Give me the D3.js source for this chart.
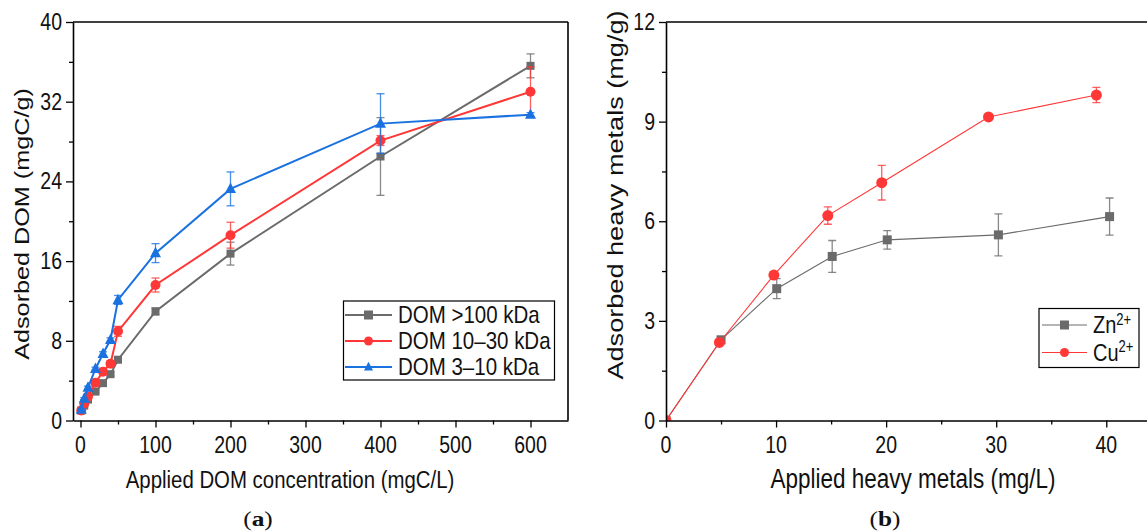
<!DOCTYPE html>
<html>
<head>
<meta charset="utf-8">
<script src="https://cdn.jsdelivr.net/npm/d3@7"></script>
<style>
  body { margin: 0; background: #fff; }
  text { font-family: "Liberation Sans", Arial, sans-serif; fill: #111; }
</style>
</head>
<body>
<svg id="chart" width="1147" height="532"></svg>
<script>
// ---- panel (a) data ----
var domConc   = [1, 5, 10, 20, 30, 40, 50, 100, 200, 400, 600];
var domHigh   = [1.0, 1.5, 2.1, 2.9, 3.75, 4.65, 6.1, 10.95, 16.75, 26.5, 35.6];
var domHighE  = [0.1, 0.1, 0.1, 0.15, 0.2, 0.2, 0.25, 0.35, 1.15, 3.9, 1.2];
var domMid    = [1.0, 1.7, 2.4, 3.8, 4.9, 5.7, 8.95, 13.6, 18.6, 28.1, 33.0];
var domMidE   = [0.3, 0.3, 0.3, 0.3, 0.3, 0.3, 0.5, 0.7, 1.3, 0.5, 2.5];
var domLow    = [1.1, 2.2, 3.3, 5.2, 6.7, 8.1, 12.1, 16.8, 23.25, 29.8, 30.7];
var domLowE   = [0.1, 0.1, 0.15, 0.15, 0.2, 0.2, 0.45, 0.95, 1.7, 3.0, 0.2];
var legendA   = ["DOM >100 kDa", "DOM 10\u201330 kDa", "DOM 3\u201310 kDa"];
var yTicksA   = [0, 8, 16, 24, 32, 40];
var xTicksA   = [0, 100, 200, 300, 400, 500, 600];

// ---- panel (b) data ----
var znX  = [0, 5.0, 10.06, 15.1, 20.1, 30.2, 40.3];
var znY  = [0, 2.43, 3.97, 4.94, 5.44, 5.59, 6.14];
var znE  = [0, 0.05, 0.3, 0.48, 0.28, 0.63, 0.56];
var cuX  = [0, 4.85, 9.8, 14.7, 19.6, 29.3, 39.1];
var cuY  = [0, 2.35, 4.38, 6.17, 7.16, 9.14, 9.8];
var cuE  = [0, 0.05, 0.1, 0.26, 0.52, 0.08, 0.23];
var yTicksB = [0, 3, 6, 9, 12];
var xTicksB = [0, 10, 20, 30, 40];

var gray = "#6b6b6b", red = "#ff3737", blue = "#1a72e0";
var svg = d3.select("#chart");
var K = 1.2;   // the picture is stretched vertically, text too

// text that is taller than wide, like in the picture
function txt(x, y, s, size, anchor, rot) {
  return svg.append("text")
    .attr("transform", "translate(" + x + "," + y + ") scale(1," + K + ")" + (rot ? " rotate(" + rot + ")" : ""))
    .attr("text-anchor", anchor || "start")
    .style("font-size", size + "px")
    .text(s);
}

function drawAxes(x, y, xt, xminor, yt, yminor, box, tsize) {
  var g = svg.append("g");
  var x0 = x.range()[0], x1 = x.range()[1], y0 = y.range()[0], y1 = y.range()[1];
  g.append("g").attr("transform", "translate(0," + y0 + ")")
    .call(d3.axisBottom(x).tickValues(xminor).tickSize(4).tickFormat(""))
    .call(function(s) { s.select(".domain").remove(); });
  g.append("g").attr("transform", "translate(0," + y0 + ")")
    .call(d3.axisBottom(x).tickValues(xt).tickSize(7).tickFormat("").tickSizeOuter(0));
  g.append("g").attr("transform", "translate(" + x0 + ",0)")
    .call(d3.axisLeft(y).tickValues(yminor).tickSize(4).tickFormat(""))
    .call(function(s) { s.select(".domain").remove(); });
  g.append("g").attr("transform", "translate(" + x0 + ",0)")
    .call(d3.axisLeft(y).tickValues(yt).tickSize(7).tickFormat("").tickSizeOuter(0));
  g.selectAll(".domain").attr("stroke-width", 1.6);
  g.selectAll(".tick line").attr("stroke-width", 1.3);
  g.append("line").attr("x1", x0).attr("x2", x1).attr("y1", y1).attr("y2", y1)
    .attr("stroke", "#000").attr("stroke-width", 1.6);
  if (box) {
    g.append("line").attr("x1", x1).attr("x2", x1).attr("y1", y1).attr("y2", y0)
      .attr("stroke", "#000").attr("stroke-width", 1.6);
  }
  xt.forEach(function(v) { txt(x(v), 453, String(v), tsize, "middle"); });
  yt.forEach(function(v) { txt(x0 - 11, y(v) + 8, String(v), tsize, "end"); });
}

function marker(g, type, cx, cy, color, size) {
  if (type === "square") {
    g.append("rect").attr("x", cx - size / 2).attr("y", cy - size / 2)
      .attr("width", size).attr("height", size).attr("fill", color);
  } else if (type === "circle") {
    g.append("circle").attr("cx", cx).attr("cy", cy).attr("r", size / 2).attr("fill", color);
  } else {
    var h = size * 0.95;
    g.append("path").attr("d", "M" + cx + "," + (cy - h * 0.6) + "L" + (cx + size / 2) + "," + (cy + h * 0.4) +
      "L" + (cx - size / 2) + "," + (cy + h * 0.4) + "Z").attr("fill", color);
  }
}

function series(x, y, xs, ys, es, color, type, size, lw, clip) {
  var g = svg.append("g");
  if (clip) g.attr("clip-path", "url(#" + clip + ")");
  // error bars
  xs.forEach(function(v, i) {
    if (!es[i]) return;
    var cx = x(v), t = y(ys[i] + es[i]), b = y(ys[i] - es[i]);
    g.append("line").attr("x1", cx).attr("x2", cx).attr("y1", t).attr("y2", b)
      .attr("stroke", color).attr("stroke-opacity", 0.8).attr("stroke-width", 1.3);
    [t, b].forEach(function(yy) {
      g.append("line").attr("x1", cx - 4).attr("x2", cx + 4).attr("y1", yy).attr("y2", yy)
        .attr("stroke", color).attr("stroke-opacity", 0.8).attr("stroke-width", 1.3);
    });
  });
  var pts = xs.map(function(v, i) { return [x(v), y(ys[i])]; });
  g.append("path").attr("d", d3.line()(pts)).attr("fill", "none")
    .attr("stroke", color).attr("stroke-width", lw);
  pts.forEach(function(p) { marker(g, type, p[0], p[1], color, size); });
}

function legend(items, bx, by, bw, bh, rowY, lx0, lx1, tx, lw, size, fsz) {
  var g = svg.append("g");
  g.append("rect").attr("x", bx).attr("y", by).attr("width", bw).attr("height", bh)
    .attr("fill", "#fff").attr("stroke", "#000").attr("stroke-width", 1.2);
  items.forEach(function(it, i) {
    var yy = rowY[i];
    g.append("line").attr("x1", lx0).attr("x2", lx1).attr("y1", yy).attr("y2", yy)
      .attr("stroke", it.color).attr("stroke-width", lw);
    marker(g, it.type, (lx0 + lx1) / 2, yy, it.color, size);
    var t = txt(tx, yy + 8, it.label, fsz, "start");
    if (it.sup) t.append("tspan").attr("dy", -7).style("font-size", (fsz * 0.65) + "px").text(it.sup);
  });
}

// ---------- panel (a) ----------
var xa = d3.scaleLinear().domain([-10, 650]).range([73, 568]);
var ya = d3.scaleLinear().domain([0, 40]).range([420.5, 22]);
drawAxes(xa, ya, xTicksA, d3.range(50, 650, 100), yTicksA, d3.range(4, 40, 8), true, 19.5);
series(xa, ya, domConc, domHigh, domHighE, gray, "square", 8, 2);
series(xa, ya, domConc, domMid, domMidE, red, "circle", 10, 2);
series(xa, ya, domConc, domLow, domLowE, blue, "triangle", 11, 2);
legend([
  {label: legendA[0], color: gray, type: "square"},
  {label: legendA[1], color: red, type: "circle"},
  {label: legendA[2], color: blue, type: "triangle"}
], 343.5, 301, 211, 79, [315, 341, 367], 345, 392, 398, 2, 9, 20.5);

txt(290, 488, "Applied DOM concentration (mgC/L)", 20.4, "middle");
txt(29, 224, "Adsorbed DOM (mgC/g)", 21, "middle", -90);

// ---------- panel (b) ----------
var xb = d3.scaleLinear().domain([0, 43.7]).range([666, 1147]);
var yb = d3.scaleLinear().domain([0, 12]).range([420.5, 22]);
svg.append("clipPath").attr("id", "clipB").append("rect")
  .attr("x", xb.range()[0]).attr("y", yb.range()[1])
  .attr("width", xb.range()[1] - xb.range()[0]).attr("height", yb.range()[0] - yb.range()[1]);
series(xb, yb, znX, znY, znE, gray, "square", 9, 1.1, "clipB");
series(xb, yb, cuX, cuY, cuE, red, "circle", 11, 1.1, "clipB");
drawAxes(xb, yb, xTicksB, d3.range(5, 45, 10), yTicksB, d3.range(1.5, 12, 3), false, 19.5);
legend([
  {label: "Zn", sup: "2+", color: gray, type: "square"},
  {label: "Cu", sup: "2+", color: red, type: "circle"}
], 1039, 308.5, 100, 59, [325, 352.5], 1042, 1087, 1093, 1, 9, 20);

txt(913, 488, "Applied heavy metals (mg/L)", 22.5, "middle");
txt(623, 195, "Adsorbed heavy metals (mg/g)", 22.6, "middle", -90);

// panel labels
[["a", 258], ["b", 885]].forEach(function(p) {
  var t = svg.append("text")
    .attr("transform", "translate(" + p[1] + ",526) scale(1.15,1)")
    .attr("text-anchor", "middle")
    .style("font-family", "Liberation Serif").style("font-size", "22px");
  t.append("tspan").text("(");
  t.append("tspan").style("font-weight", "bold").text(p[0]);
  t.append("tspan").text(")");
});
</script>
</body>
</html>
